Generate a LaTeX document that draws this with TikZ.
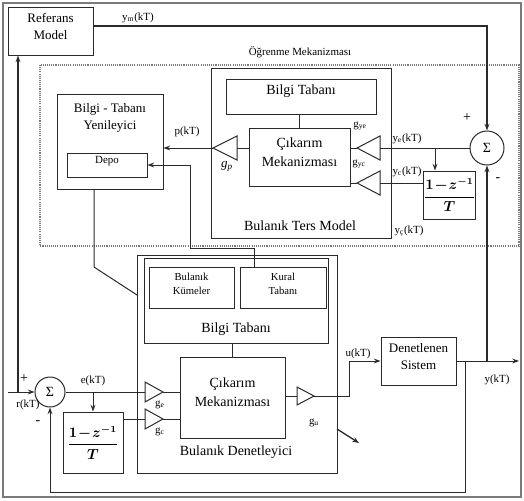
\documentclass[tikz,border=0pt]{standalone}
\usepackage{fontspec}
\setmainfont{Liberation Serif}
\usepackage{amsmath}
\usetikzlibrary{arrows.meta,fit}
\definecolor{lc}{HTML}{2A2A2A}
\definecolor{framec}{HTML}{7A7A7A}
\newcommand*{\szbig}{\fontsize{10.5}{14.25}\selectfont}
\newcommand*{\szmid}{\fontsize{9.75}{12.75}\selectfont}
\newcommand*{\szsml}{\fontsize{8.2}{9.5}\selectfont}
\newcommand*{\szxs}{\fontsize{8}{10}\selectfont}
\newcommand*{\dzfrac}{{\fontsize{10.5}{13}\selectfont\boldmath$\dfrac{\mathbf{1}\!-\!z^{-\mathbf{1}}}{T}$}}
\begin{document}
\begin{tikzpicture}[x=0.75pt,y=-0.75pt,
  ln/.style={draw=lc, line width=0.75pt},
  thk/.style={draw=lc, line width=1.4pt},
  box/.style={draw=lc, line width=0.75pt, inner sep=0pt, align=center},
  arr/.style={-{Stealth[length=5pt,width=3.6pt]}},
  tri/.style={draw=lc, line width=0.75pt, fill=white},
  lbl/.style={inner sep=0pt, font=\szsml},
  sumc/.style={circle, draw=lc, line width=0.75pt, inner sep=0pt, font=\szbig},
]
\useasboundingbox (0,0) rectangle (524,500);
% outer frame
\draw[draw=framec, line width=1.5pt] (3,3) rectangle (521,497);
% learning mechanism (dotted)
\draw[draw=framec, line width=0.9pt, dash pattern=on 0.8pt off 0.8pt] (40,65) rectangle (519,246);
\node[lbl] (lm) at (300,52) {Öğrenme Mekanizması};

% ---------- upper part ----------
\node[box, fit={(8,7)(93,55)}, font=\szmid] (ref) {Referans\\Model};
\node[box, fit={(57,94)(163,189)}] (yen) {};
\node[font=\szmid, align=center, inner sep=0pt] (yent) at (110,118) {Bilgi - Tabanı\\Yenileyici};
\node[box, fit={(67,153)(147,177)}, font=\szsml] (depo) {Depo};

\node[box, fit={(211,68)(391,238)}] (btm) {};
\node[font=\szbig, inner sep=0pt] (btmt) at (300,226) {Bulanık Ters Model};
\node[box, fit={(226,79)(376,114)}, font=\szbig] (bt1) {Bilgi Tabanı};
\node[box, fit={(249,128)(350,186)}, font=\szbig] (cm1) {Çıkarım\\Mekanizması};
\draw[ln] (bt1.south -| cm1.north) -- (cm1.north);

% gain g_p
\coordinate (gp-in) at (237,148);
\coordinate (gp-out) at (213,148);
\draw[tri] (237,136) -- (237,160) -- (gp-out) -- cycle;
\draw[ln] (cm1.west |- gp-in) -- (gp-in);
\draw[ln, arr] (gp-out) -- (yen.east |- gp-out);
\node[lbl] (pl) at (187,132) {p(kT)};
\node[lbl, font=\szmid] (gpl) at (227,166) {\textit{g}\textsubscript{\textit{p}}};

% gains g_ye, g_yc
\coordinate (ye-in) at (380,148);
\coordinate (ye-out) at (357,148);
\draw[tri] (380,136) -- (380,160) -- (ye-out) -- cycle;
\coordinate (yc-in) at (380,183);
\coordinate (yc-out) at (357,183);
\draw[tri] (380,171) -- (380,195) -- (yc-out) -- cycle;
\draw[ln] (ye-out) -- (cm1.east |- ye-out);
\draw[ln] (yc-out) -- (cm1.east |- yc-out);
\node[lbl] (gyel) at (360,126) {g\textsubscript{ye}};
\node[lbl] (gycl) at (359,164) {g\textsubscript{yc}};

% upper sum and derivative
\node[sumc, minimum size=25.5pt] (sum1) at (487,148) {Σ};
\node[box] (dz1) at (449.5,195) [minimum width=36.75pt, minimum height=36pt] {\dzfrac};
\coordinate (br1) at (435,148);
\draw[ln] (sum1.west) -- (ye-in);
\draw[ln, arr] (br1) -- (br1 |- dz1.north);
\draw[ln] (dz1.west |- yc-in) -- (yc-in);
\node[lbl] (yel) at (407,139) {y\textsubscript{e}(kT)};
\node[lbl] (ycl) at (407,172) {y\textsubscript{c}(kT)};
\node[lbl] (ycsl) at (409,231) {y\textsubscript{ç}(kT)};
\node[lbl, font=\szbig] (p1) at (467,118) {+};
\node[lbl, font=\szbig] (m1) at (498,180) {-};

% y_m line
\draw[ln, line width=1pt, arr] ([yshift=3.75pt]ref.east) -| (sum1.north);
\node[lbl] (yml) at (138,18) {y\textsubscript{m}(kT)};

% ---------- lower part ----------
\node[box, fit={(137,255)(337,473)}] (bd) {};
\node[font=\szbig, inner sep=0pt] (bdt) at (236,452) {Bulanık Denetleyici};
\node[box, fit={(144,258)(328,343)}] (bt2) {};
\node[font=\szbig, inner sep=0pt] (bt2t) at (236,329) {Bilgi Tabanı};
\node[box, fit={(149,267)(234,308)}, font=\szxs] (bk) {Bulanık\\Kümeler};
\node[box, fit={(240,267)(326,308)}, font=\szxs] (kt) {Kural\\Tabanı};
\node[box, fit={(180,357)(285,438)}, font=\szbig] (cm2) {Çıkarım\\Mekanizması};
\draw[ln] (bt2.south -| cm2.north) -- (cm2.north);

\node[sumc, minimum size=22.5pt] (sum2) at (50,392) {Σ};
\node[box] (dz2) at (93,442.5) [minimum width=45pt, minimum height=45.75pt] {\dzfrac};

\coordinate (ge-in) at (145,392);
\coordinate (ge-out) at (163,392);
\draw[tri] (ge-in) -- (145,382) -- (ge-out) -- (145,402) -- cycle;
\coordinate (gc-in) at (145,419);
\coordinate (gc-out) at (163,419);
\draw[tri] (gc-in) -- (145,409) -- (gc-out) -- (145,429) -- cycle;
\coordinate (gu-in) at (297,396);
\coordinate (gu-out) at (314,396);
\draw[tri] (gu-in) -- (297,387) -- (gu-out) -- (297,405) -- cycle;

\draw[ln] (sum2.east) -- (ge-in);
\draw[ln] (ge-out) -- (cm2.west |- ge-out);
\coordinate (br3) at (93,392);
\draw[ln, arr] (br3) -- (br3 |- dz2.north);
\draw[ln] (dz2.east |- gc-in) -- (gc-in);
\draw[ln] (gc-out) -- (cm2.west |- gc-out);
\draw[ln] (cm2.east |- gu-in) -- (gu-in);

\node[box, fit={(381,337)(456,385)}, font=\szmid] (ds) {Denetlenen\\Sistem};
\coordinate (uc) at (349,396);
\draw[ln, arr] (gu-out) -- (uc) |- (ds.west);
\node[lbl] (ul) at (358,354) {u(kT)};

\coordinate (yend) at (519,361);
\draw[ln, arr] (ds.east) -- (yend);
\node[lbl] (yl) at (497,380) {y(kT)};
\coordinate (yb1) at (465,361);
\coordinate (yb2) at (487,361);
\coordinate (fb) at (465,492);
\draw[ln, arr] (yb1) -- (fb) -| (sum2.south);
\draw[thk, arr] (yb2) -- (sum1.south);

\coordinate (rin) at (8,392);
\coordinate (rb) at (18,392);
\draw[ln, arr] (rin) -- (sum2.west);
\draw[thk, arr] (rb) -- (rb |- ref.south);

\node[lbl] (el) at (93,381) {e(kT)};
\node[lbl, font=\szbig] (p2) at (24,379) {+};
\node[lbl] (rl) at (28,405) {r(kT)};
\node[lbl, font=\szbig] (m2) at (38,423) {-};
\node[lbl] (gel) at (160,405) {g\textsubscript{e}};
\node[lbl] (gcl) at (160,432) {g\textsubscript{c}};
\node[lbl] (gul) at (314,423) {g\textsubscript{u}};

% adaptation arrow
\coordinate (ad1) at (337,429);
\coordinate (ad2) at (359,443);
\draw[ln, line width=1pt, arr] (ad1) -- (ad2);

% Depo links
\coordinate (dl) at (94,267);
\coordinate (dl2) at (137,295);
\draw[ln] (yen.south -| dl) -- (dl) -- (dl2);
\coordinate (k1) at (254,248);
\coordinate (k2) at (190,248);
\draw[ln, arr] (kt.north -| k1) -- (k1) -- (k2) |- (depo.east);
\end{tikzpicture}
\end{document}
